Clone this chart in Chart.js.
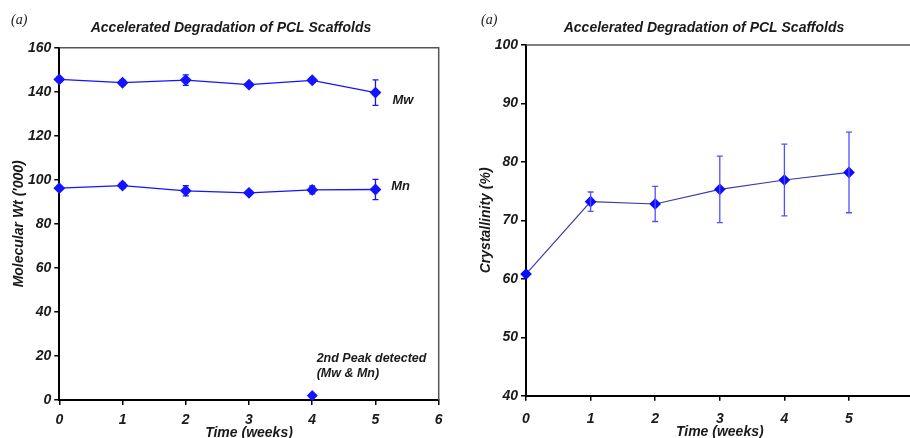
<!DOCTYPE html>
<html>
<head>
<meta charset="utf-8">
<script src="https://cdn.jsdelivr.net/npm/chart.js@4.4.1/dist/chart.umd.min.js"></script>
<style>
  html, body { margin: 0; padding: 0; background: #fff; overflow: hidden; }
  #wrap { position: relative; width: 910px; height: 438px; overflow: hidden; }
  #leftBox { position: absolute; left: 0; top: 0; width: 455px; height: 438px; }
  #rightBox { position: absolute; left: 455px; top: 0; width: 474px; height: 438px; }
</style>
</head>
<body>
<div id="wrap">
  <div id="leftBox"><canvas id="mwChart" width="455" height="438"></canvas></div>
  <div id="rightBox"><canvas id="crystChart" width="474" height="438"></canvas></div>
</div>
<script>
/* Accelerated degradation of PCL scaffolds — two panels */

// ── Data ──────────────────────────────────────────────────────
const weeks = [0, 1, 2, 3, 4, 5];
const mwValues = [145.6, 144.1, 145.3, 143.2, 145.2, 139.6];
const mwErrors = [1.0, 1.2, 2.4, 0.8, 1.0, 5.8];
const mnValues = [96.2, 97.4, 95.0, 94.1, 95.4, 95.6];
const mnErrors = [1.0, 1.2, 2.3, 1.0, 1.8, 4.6];
const peakWeeks = [4];
const peakValues = [2];
const crystValues = [60.8, 73.2, 72.8, 75.3, 76.9, 78.2];
const crystErrors = [0, 1.65, 3.0, 5.7, 6.15, 6.9];
const xTicks = [0, 1, 2, 3, 4, 5, 6];
const mwTicks = [0, 20, 40, 60, 80, 100, 120, 140, 160];
const crystTicks = [40, 50, 60, 70, 80, 90, 100];

const textColor = '#1a1a1a';
const tickFont = { family: '"Liberation Sans", Arial, sans-serif', size: 14, weight: 'bold', style: 'italic' };
const titleFont = { family: '"Liberation Sans", Arial, sans-serif', size: 14, weight: 'bold', style: 'italic' };

function toPoints(xs, ys) {
  return xs.map((x, i) => ({ x: x, y: ys[i] }));
}

// ── Plugin: error bars, frame, labels ─────────────────────────
const extrasPlugin = {
  id: 'extras',
  afterDatasetsDraw(chart, args, opts) {
    const { ctx, scales, chartArea } = chart;
    const xs = scales.x, ys = scales.y;
    ctx.save();
    // error bars
    chart.data.datasets.forEach(ds => {
      if (!ds.errors) return;
      ctx.strokeStyle = ds.errorColor || ds.borderColor;
      ctx.lineWidth = 1.3;
      ds.data.forEach((p, i) => {
        const e = ds.errors[i];
        if (!e) return;
        const px = xs.getPixelForValue(p.x);
        const top = ys.getPixelForValue(p.y + e);
        const bot = ys.getPixelForValue(p.y - e);
        ctx.beginPath();
        ctx.moveTo(px, top); ctx.lineTo(px, bot);
        ctx.moveTo(px - 3, top); ctx.lineTo(px + 3, top);
        ctx.moveTo(px - 3, bot); ctx.lineTo(px + 3, bot);
        ctx.stroke();
      });
    });
    // frame (top and right)
    ctx.strokeStyle = '#555';
    ctx.lineWidth = 1.5;
    ctx.beginPath();
    ctx.moveTo(chartArea.left, chartArea.top);
    ctx.lineTo(chartArea.right, chartArea.top);
    if (opts.rightFrame) ctx.lineTo(chartArea.right, chartArea.bottom);
    ctx.stroke();
    // in-plot labels
    ctx.fillStyle = textColor;
    ctx.textAlign = 'left';
    ctx.textBaseline = 'middle';
    (opts.labels || []).forEach(l => {
      ctx.font = `italic bold ${l.size}px "Liberation Sans", Arial, sans-serif`;
      ctx.fillText(l.text, xs.getPixelForValue(l.x), ys.getPixelForValue(l.y));
    });
    // panel title and tag
    ctx.font = 'italic bold 14px "Liberation Sans", Arial, sans-serif';
    ctx.textAlign = 'center';
    ctx.fillText(opts.title, opts.titleX, 28);
    ctx.font = 'italic 14px "Liberation Serif", "Times New Roman", serif';
    ctx.textAlign = 'left';
    ctx.fillText('(a)', opts.tagX, 20);
    ctx.restore();
  }
};

function axisCfg(min, max, ticks, title, titlePad, tickPad) {
  return {
    type: 'linear',
    min: min,
    max: max,
    afterBuildTicks: s => { s.ticks = ticks.map(v => ({ value: v })); },
    border: { display: true, color: '#000', width: 2 },
    grid: { drawOnChartArea: false, drawTicks: true, tickLength: 5, color: '#000', lineWidth: 1.5 },
    ticks: { color: textColor, font: tickFont, padding: tickPad, maxRotation: 0 },
    title: { display: true, text: title, color: textColor, font: titleFont, padding: titlePad },
  };
}

// ── Left panel: molecular weight ──────────────────────────────
const blue = '#1414ff';
const mwCtx = document.getElementById('mwChart');
new Chart(mwCtx, {
  type: 'scatter',
  data: {
    datasets: [
      {
        label: 'Mw',
        data: toPoints(weeks, mwValues),
        errors: mwErrors,
        showLine: true,
        borderColor: blue,
        backgroundColor: blue,
        borderWidth: 1.3,
        pointStyle: 'rectRot',
        pointRadius: 5,
        clip: false,
      },
      {
        label: 'Mn',
        data: toPoints(weeks, mnValues),
        errors: mnErrors,
        showLine: true,
        borderColor: blue,
        backgroundColor: blue,
        borderWidth: 1.3,
        pointStyle: 'rectRot',
        pointRadius: 5,
        clip: false,
      },
      {
        label: '2nd Peak',
        data: toPoints(peakWeeks, peakValues),
        showLine: false,
        borderColor: blue,
        backgroundColor: blue,
        pointStyle: 'rectRot',
        pointRadius: 5,
        clip: false,
      },
    ],
  },
  options: {
    responsive: false,
    animation: false,
    layout: { padding: { top: 47.7, right: 16.3, left: 0, bottom: 0 } },
    plugins: {
      legend: { display: false },
      tooltip: { enabled: false },
      extras: {
        title: 'Accelerated Degradation of PCL Scaffolds',
        titleX: 231,
        tagX: 11,
        rightFrame: true,
        labels: [
          { text: 'Mw', x: 5.27, y: 136, size: 13 },
          { text: 'Mn', x: 5.25, y: 97, size: 13 },
          { text: '2nd Peak detected', x: 4.07, y: 19, size: 12.5 },
          { text: '(Mw & Mn)', x: 4.07, y: 12, size: 12.5 },
        ],
      },
    },
    scales: {
      x: Object.assign(axisCfg(0, 6, xTicks, 'Time (weeks)', { top: 0, bottom: -4 }, 7), {
        afterFit: s => { s.height = 38; },
      }),
      y: Object.assign(axisCfg(0, 160, mwTicks, "Molecular Wt ('000)", { top: 11, bottom: 0 }, 3), {
        afterFit: s => { s.width = 59.3; },
      }),
    },
  },
  plugins: [extrasPlugin],
});

// ── Right panel: crystallinity ────────────────────────────────
const crCtx = document.getElementById('crystChart');
new Chart(crCtx, {
  type: 'scatter',
  data: {
    datasets: [
      {
        label: 'Crystallinity',
        data: toPoints(weeks, crystValues),
        errors: crystErrors,
        errorColor: '#5050ff',
        showLine: true,
        borderColor: '#3b3ba6',
        backgroundColor: '#0a0aff',
        borderWidth: 1.2,
        pointStyle: 'rectRot',
        pointRadius: 5,
        pointBorderColor: '#0a0aff',
        clip: false,
      },
    ],
  },
  options: {
    responsive: false,
    animation: false,
    layout: { padding: { top: 45, right: 15.4, left: 0, bottom: 0 } },
    plugins: {
      legend: { display: false },
      tooltip: { enabled: false },
      extras: {
        title: 'Accelerated Degradation of PCL Scaffolds',
        titleX: 249,
        tagX: 26,
        rightFrame: false,
      },
    },
    scales: {
      x: Object.assign(axisCfg(0, 6, xTicks, 'Time (weeks)', { top: 0, bottom: -3 }, 10), {
        afterFit: s => { s.height = 42.3; },
      }),
      y: Object.assign(axisCfg(40, 100, crystTicks, 'Crystallinity (%)', { top: 23, bottom: 0 }, 3), {
        afterFit: s => { s.width = 71; },
      }),
    },
  },
  plugins: [extrasPlugin],
});
</script>
</body>
</html>
